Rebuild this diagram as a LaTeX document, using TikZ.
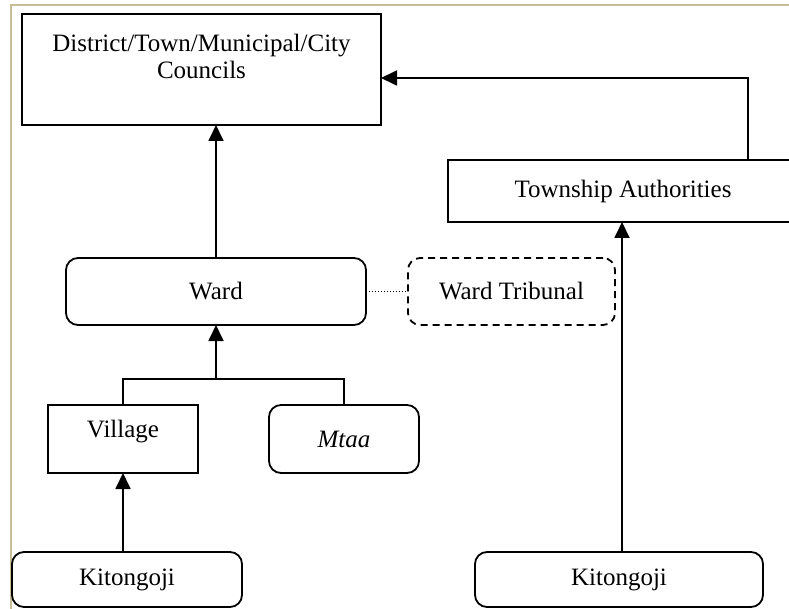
\documentclass[tikz,border=0pt]{standalone}
\usepackage{fontspec}
\setmainfont{Liberation Serif}
\usepackage{tikz}
\usetikzlibrary{positioning,arrows.meta}

\begin{document}
\begin{tikzpicture}[x=1pt,y=-1pt,font=\fontsize{25}{27}\selectfont]
				\tikzstyle{box}=[draw, rectangle, line width=1.8pt, inner sep=0pt, outer sep=0pt, align=center]
				\tikzstyle{rbox}=[box, rounded corners=12pt]
				\tikzstyle{tbox}=[rbox, dashed, dash pattern=on 7pt off 5pt]
				\tikzstyle{link}=[line width=1.8pt]
				\tikzstyle{arr}=[link, -{Triangle[length=16pt,width=15pt]}]

				\useasboundingbox (0,0) rectangle (789,609);
				\draw[color={rgb,255:red,200;green,190;blue,150}, line width=2pt] (10.5,609) -- (10.5,5) -- (789,5);

				\node[box, minimum width=359pt, minimum height=111pt] (councils) at (201.5,69.5) {District/Town/Municipal/City\\Councils\\\mbox{}};
				\node[box, minimum width=350pt, minimum height=62pt] (township) at (623,191) {Township Authorities};
				\node[rbox, minimum width=300pt, minimum height=67pt] (ward) at (216,291.5) {Ward};
				\node[tbox, minimum width=207pt, minimum height=67pt] (tribunal) [right=42pt of ward] {Ward Tribunal};
				\node[box, minimum width=150pt, minimum height=68pt] (village) at (123,439) {Village\\[-6pt]\mbox{}};
				\node[rbox, minimum width=150pt, minimum height=68pt] (mtaa) [right=71pt of village] {\textit{Mtaa}};
				\node[rbox, minimum width=230pt, minimum height=55pt] (kit1) at (127,579.5) {Kitongoji};
				\node[rbox, minimum width=288pt, minimum height=55pt] (kit2) at (619,579.5) {Kitongoji};

				\coordinate (split) at (216,379);

				\draw[arr] (ward.north) -- (ward.north |- councils.south);
				\draw[arr] ([xshift=125pt]township.north) |- ([yshift=-8.5pt]councils.east);
				\draw[arr] (kit2.north -| 622,0) -- (township.south -| 622,0);
				\draw[arr] (village.south |- kit1.north) -- (village.south);
				\draw[arr] (split) -- (split |- ward.south);
				\draw[link] (village.north) |- (split) -| (mtaa.north);
				\draw[dotted, line width=1pt] (ward.east) -- (tribunal.west);
			\end{tikzpicture}
\end{document}
